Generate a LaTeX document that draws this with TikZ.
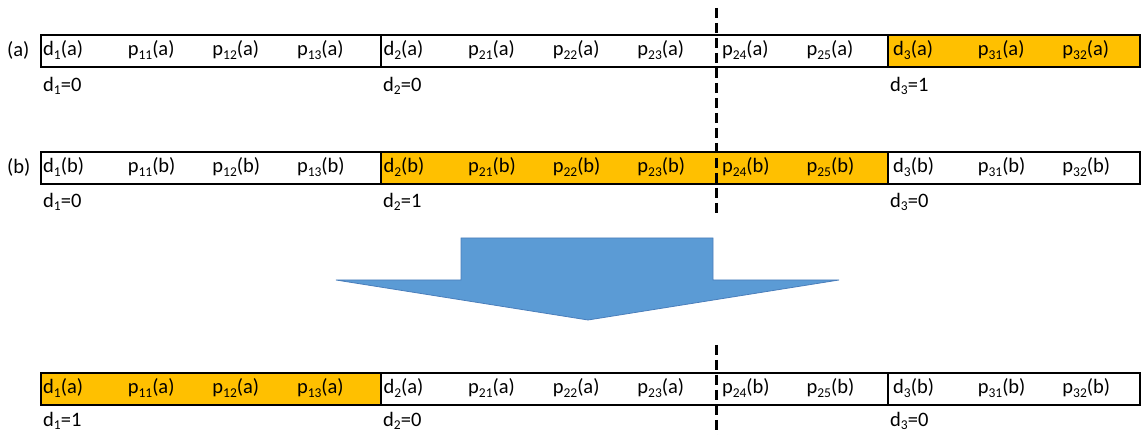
\documentclass[tikz,border=0pt]{standalone}
\usepackage{fontspec}
\setmainfont{Carlito}
\newcommand\sbs[1]{\raisebox{-0.35ex}{\fontsize{13.5}{13.5}\selectfont #1}}
\definecolor{hlorange}{HTML}{FFC000}
\definecolor{arrowblue}{HTML}{5B9BD5}
\definecolor{arrowedge}{HTML}{4A7EBB}
\begin{document}
\begin{tikzpicture}[x=1pt,y=-1pt,
  txt/.style={anchor=west,inner sep=0pt,font=\fontsize{20.5}{22}\selectfont},
  segbox/.style={draw=black,line width=2.4pt,anchor=north west,minimum height=32pt,inner sep=0pt},
  cutline/.style={draw=black,line width=3pt,dash pattern=on 10pt off 5pt},
  bigarrow/.style={fill=arrowblue,draw=arrowedge,line width=0.8pt}]
\useasboundingbox (0,0) rectangle (1141,435);
% row (a)
\node[segbox,minimum width=340pt] (a1) at (40,34) {};
\node[segbox,minimum width=507pt] (a2) at (380,34) {};
\node[segbox,minimum width=252pt,fill=hlorange] (a3) at (887,34) {};
\node[txt] (la) at (7,50) {(a)};
\foreach \t [count=\i from 0] in {d\sbs{1}(a),p\sbs{11}(a),p\sbs{12}(a),p\sbs{13}(a),d\sbs{2}(a),p\sbs{21}(a),p\sbs{22}(a),p\sbs{23}(a),p\sbs{24}(a),p\sbs{25}(a),d\sbs{3}(a),p\sbs{31}(a),p\sbs{32}(a)}
  \node[txt] (ta\i) at ({43+\i*84.6+(\i>3)*2+(\i>9)*2},50) {\t};
\node[txt] (va1) at (43,86) {d\sbs{1}=0};
\node[txt] (va2) at (383,86) {d\sbs{2}=0};
\node[txt] (va3) at (890,86) {d\sbs{3}=1};
% row (b)
\node[segbox,minimum width=340pt] (b1) at (40,151) {};
\node[segbox,minimum width=507pt,fill=hlorange] (b2) at (380,151) {};
\node[segbox,minimum width=252pt] (b3) at (887,151) {};
\node[txt] (lb) at (7,167) {(b)};
\foreach \t [count=\i from 0] in {d\sbs{1}(b),p\sbs{11}(b),p\sbs{12}(b),p\sbs{13}(b),d\sbs{2}(b),p\sbs{21}(b),p\sbs{22}(b),p\sbs{23}(b),p\sbs{24}(b),p\sbs{25}(b),d\sbs{3}(b),p\sbs{31}(b),p\sbs{32}(b)}
  \node[txt] (tb\i) at ({43+\i*84.6+(\i>3)*2+(\i>9)*2},167) {\t};
\node[txt] (vb1) at (43,202) {d\sbs{1}=0};
\node[txt] (vb2) at (383,202) {d\sbs{2}=1};
\node[txt] (vb3) at (890,202) {d\sbs{3}=0};
% row (c)
\node[segbox,minimum width=340pt,fill=hlorange] (c1) at (40,372) {};
\node[segbox,minimum width=507pt] (c2) at (380,372) {};
\node[segbox,minimum width=252pt] (c3) at (887,372) {};
\foreach \t [count=\i from 0] in {d\sbs{1}(a),p\sbs{11}(a),p\sbs{12}(a),p\sbs{13}(a),d\sbs{2}(a),p\sbs{21}(a),p\sbs{22}(a),p\sbs{23}(a),p\sbs{24}(b),p\sbs{25}(b),d\sbs{3}(b),p\sbs{31}(b),p\sbs{32}(b)}
  \node[txt] (tc\i) at ({43+\i*84.6+(\i>3)*2+(\i>9)*2},388) {\t};
\node[txt] (vc1) at (43,421) {d\sbs{1}=1};
\node[txt] (vc2) at (383,421) {d\sbs{2}=0};
\node[txt] (vc3) at (890,421) {d\sbs{3}=0};
% cut lines
\coordinate (cut1s) at (716,8);
\coordinate (cut1e) at (716,216);
\coordinate (cut2s) at (716,345);
\coordinate (cut2e) at (716,435);
\draw[cutline] (cut1s) -- (cut1e);
\draw[cutline] (cut2s) -- (cut2e);
% big arrow
\draw[bigarrow] (461,238) -- (713,238) -- (713,280) -- (839,280) -- (588,320) -- (336,280) -- (461,280) -- cycle;
\end{tikzpicture}
\end{document}
